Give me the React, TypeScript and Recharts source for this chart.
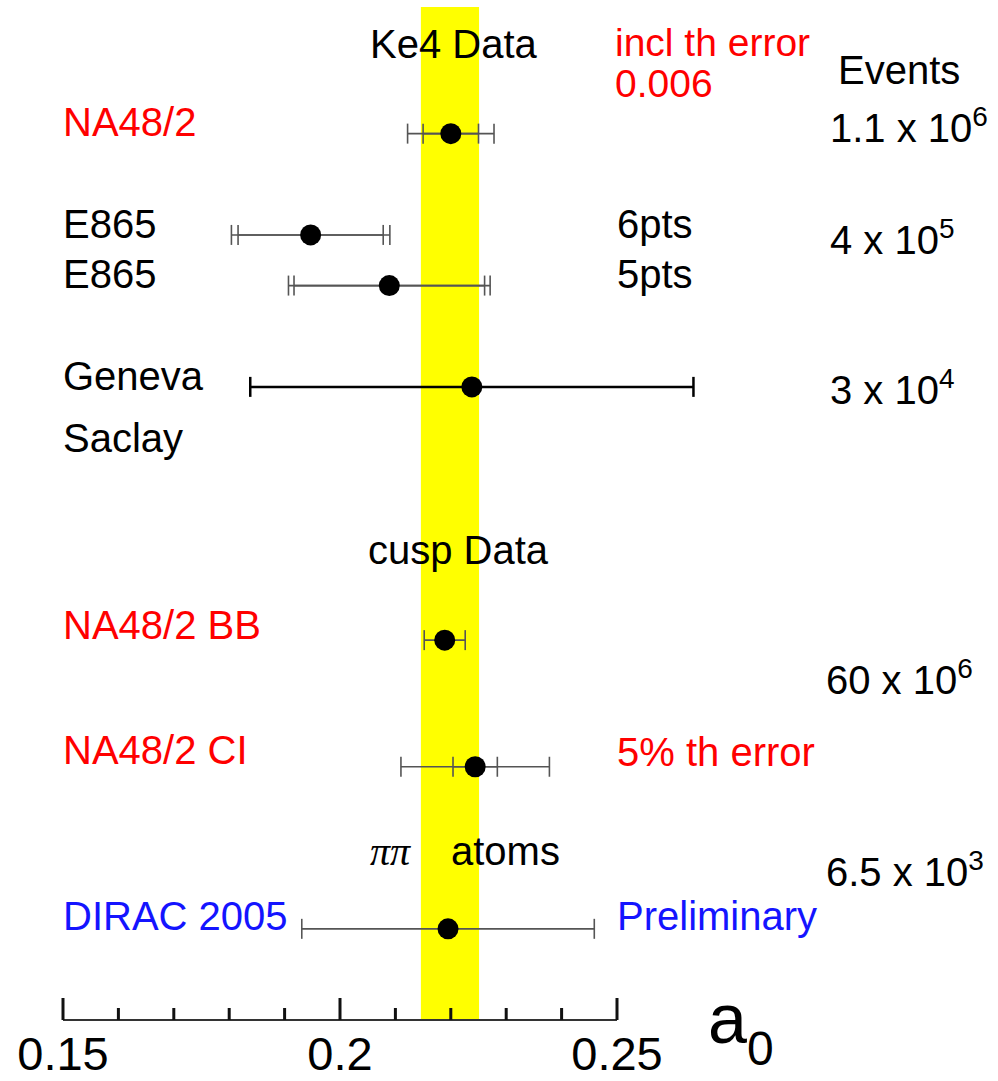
import React from 'react'
import {
  ScatterChart,
  Scatter,
  XAxis,
  YAxis,
  ErrorBar,
  ReferenceArea,
  ReferenceLine,
} from 'recharts'

// a0 measurements, top row first
const experiments = ['NA48/2', 'E865 6pts', 'E865 5pts', 'Geneva Saclay', 'NA48/2 BB', 'NA48/2 CI', 'DIRAC 2005']
const a0Central = [0.22, 0.1947, 0.2089, 0.2238, 0.2189, 0.2244, 0.2195]
const statErr = [0.005, 0.0131, 0.0172, null, null, 0.004, null]
const totalErr = [0.0078, 0.0143, 0.0182, 0.04, 0.0037, 0.0134, 0.0264]
const rowPos = [17.5, 15.5, 14.5, 12.5, 7.5, 5, 1.8]

// ChPT band
const bandLow = 0.2146
const bandHigh = 0.2251

const xTicks = [0.15, 0.16, 0.17, 0.18, 0.19, 0.2, 0.21, 0.22, 0.23, 0.24, 0.25]
const majorTicks = [0.15, 0.2, 0.25]

const W = 998
const H = 1081
const SANS = 'Liberation Sans, Arial, Helvetica, sans-serif'
const RED = '#ff0000'
const BLUE = '#1414ff'

function AxisTick(props: any) {
  const { x, y, payload } = props
  const major = majorTicks.includes(payload.value)
  return (
    <g>
      <line x1={x} x2={x} y1={y} y2={y - (major ? 22 : 12)} stroke="#111" strokeWidth={3} />
      {major && (
        <text x={x} y={y + 50} textAnchor="middle" fontSize={47} fontFamily={SANS} fill="#000">
          {String(payload.value)}
        </text>
      )}
    </g>
  )
}

const Dot = (props: any) => <circle cx={props.cx} cy={props.cy} r={10.5} fill="#000" />

function Label({ x, y, color = '#000', size = 40, children }: any) {
  return (
    <text x={x} y={y} fontSize={size} fontFamily={SANS} fill={color}>
      {children}
    </text>
  )
}

function Events({ x, y, base, exp }: { x: number; y: number; base: string; exp: string }) {
  return (
    <text x={x} y={y} fontSize={40} fontFamily={SANS} fill="#000">
      {base}
      <tspan fontSize={28} dy={-16}>{exp}</tspan>
    </text>
  )
}

export default function App() {
  return (
    <div style={{ position: 'absolute', left: 0, top: 0, width: W, height: H, background: '#fff' }}>
      <ScatterChart width={W} height={H} margin={{ top: 7, right: 104, bottom: 0, left: 63 }}>
        <XAxis
          type="number"
          dataKey="x"
          domain={[0.15, 0.3]}
          ticks={xTicks}
          interval={0}
          height={61}
          axisLine={false}
          tickLine={false}
          tickSize={0}
          tickMargin={0}
          tick={<AxisTick />}
        />
        <YAxis type="number" dataKey="y" domain={[0, 20]} hide />
        <ReferenceArea x1={bandLow} x2={bandHigh} fill="#ffff00" fillOpacity={1} stroke="none" />
        <ReferenceLine
          segment={[{ x: 0.15, y: 0 }, { x: 0.25, y: 0 }]}
          stroke="#333"
          strokeWidth={2}
        />
        {experiments.map((name, i) => {
          const point = { name, x: a0Central[i], y: rowPos[i], stat: statErr[i], total: totalErr[i] }
          const heavy = name === 'Geneva Saclay'
          return (
            <Scatter key={name} name={name} data={[point]} shape={Dot} isAnimationActive={false}>
              <ErrorBar
                dataKey="total"
                direction="x"
                width={10}
                stroke={heavy ? '#000' : '#555'}
                strokeWidth={heavy ? 2.5 : 1.6}
                isAnimationActive={false}
              />
              {statErr[i] != null && (
                <ErrorBar
                  dataKey="stat"
                  direction="x"
                  width={10}
                  stroke="#555"
                  strokeWidth={1.6}
                  isAnimationActive={false}
                />
              )}
            </Scatter>
          )
        })}
      </ScatterChart>

      <svg width={W} height={H} style={{ position: 'absolute', left: 0, top: 0, pointerEvents: 'none' }}>
        <Label x={370} y={58}>Ke4 Data</Label>
        <Label x={615} y={56} color={RED} size={39}>incl th error</Label>
        <Label x={615} y={97} color={RED} size={39}>0.006</Label>
        <Label x={838} y={84}>Events</Label>

        <Label x={63} y={136} color={RED}>NA48/2</Label>
        <Events x={830} y={142} base="1.1 x 10" exp="6" />

        <Label x={63} y={238}>E865</Label>
        <Label x={617} y={238}>6pts</Label>
        <Label x={63} y={288}>E865</Label>
        <Label x={617} y={288}>5pts</Label>
        <Events x={830} y={254} base="4 x 10" exp="5" />

        <Label x={63} y={390}>Geneva</Label>
        <Label x={63} y={452}>Saclay</Label>
        <Events x={830} y={404} base="3 x 10" exp="4" />

        <Label x={368} y={564}>cusp Data</Label>
        <Label x={63} y={639} color={RED}>NA48/2 BB</Label>
        <Events x={826} y={694} base="60 x 10" exp="6" />
        <Label x={63} y={764} color={RED}>NA48/2 CI</Label>
        <Label x={617} y={766} color={RED}>5% th error</Label>

        <text x={370} y={865} fontSize={40} fontFamily="Liberation Serif, Times New Roman, serif" fontStyle="italic" fill="#000">
          ππ
        </text>
        <Label x={451} y={865}>atoms</Label>
        <Events x={826} y={886} base="6.5 x 10" exp="3" />
        <Label x={63} y={930} color={BLUE}>DIRAC 2005</Label>
        <Label x={617} y={930} color={BLUE}>Preliminary</Label>

        <text x={708} y={1043} fontSize={70} fontFamily={SANS} fill="#000">
          a<tspan fontSize={48} dy={22}>0</tspan>
        </text>
      </svg>
    </div>
  )
}
